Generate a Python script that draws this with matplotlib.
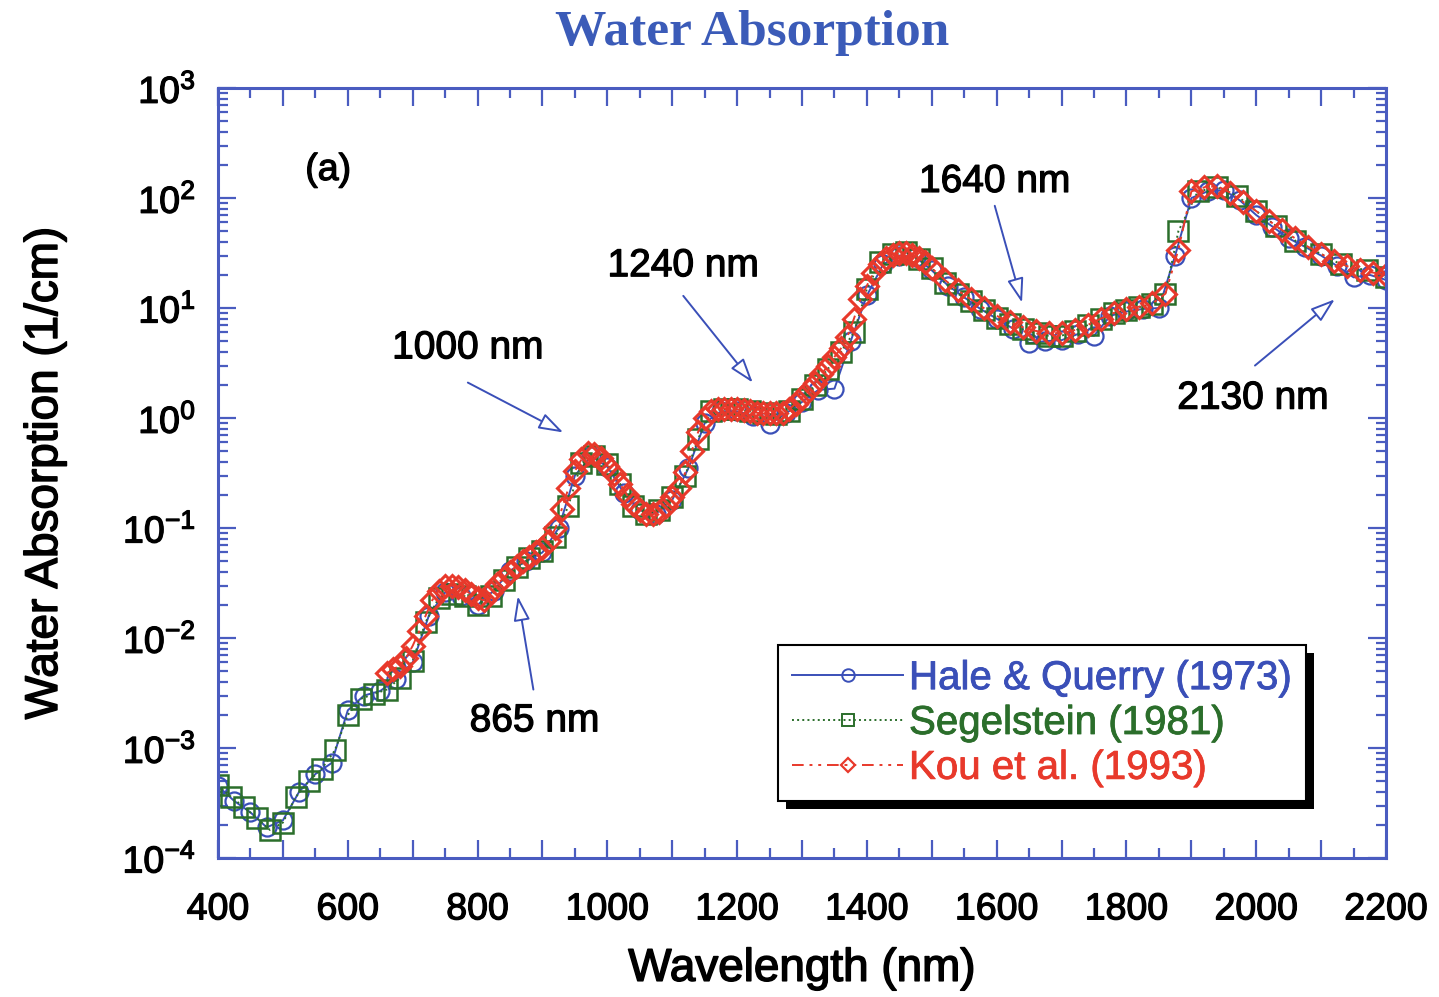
import math
import matplotlib.pyplot as plt
import matplotlib.patheffects as pe
from matplotlib.patches import Rectangle
from matplotlib.ticker import MultipleLocator, FuncFormatter, LogLocator, FixedLocator
from matplotlib.lines import Line2D

# Hale & Querry (1973), шаг 25 нм
hq_wl = [400, 425, 450, 475, 500, 525, 550, 575, 600, 625, 650, 675, 700, 725, 750,
         775, 800, 825, 850, 875, 900, 925, 950, 975, 1000, 1025, 1050, 1075, 1100,
         1125, 1150, 1175, 1200, 1225, 1250, 1275, 1300, 1325, 1350, 1375, 1400,
         1425, 1450, 1475, 1500, 1525, 1550, 1575, 1600, 1625, 1650, 1675, 1700,
         1725, 1750, 1775, 1800, 1825, 1850, 1875, 1900, 1925, 1950, 1975, 2000,
         2025, 2050, 2075, 2100, 2125, 2150, 2175, 2200]
hq_abs = [4.5e-4, 3.3e-4, 2.6e-4, 1.9e-4, 2.2e-4, 4.0e-4, 5.8e-4, 7.3e-4, 2.2e-3,
          3.0e-3, 3.3e-3, 4.2e-3, 6.0e-3, 1.6e-2, 2.6e-2, 2.4e-2, 2.0e-2, 2.7e-2,
          4.1e-2, 5.0e-2, 6.0e-2, 1.0e-1, 3.0e-1, 4.5e-1, 3.6e-1, 2.1e-1, 1.45e-1,
          1.35e-1, 1.8e-1, 3.5e-1, 0.9, 1.15, 1.15, 1.05, 0.88, 1.1, 1.4, 1.8, 1.85,
          5.0, 13, 25, 30, 29, 22, 16, 12.5, 9.8, 8.0, 6.5, 4.8, 5.0, 5.1, 5.8, 5.6,
          8.5, 9.3, 9.8, 10.0, 30, 100, 115, 118, 95, 70, 55, 43, 36, 30, 24, 19,
          20, 18]

# Segelstein (1981)
sg_wl = [400, 420, 440, 460, 480, 500, 520, 540, 560, 580, 600, 620, 640, 660, 680,
         700, 720, 740, 760, 780, 800, 820, 840, 860, 880, 900, 920, 940, 960, 980,
         1000, 1020, 1040, 1060, 1080, 1100, 1120, 1140, 1160, 1180, 1200, 1220,
         1240, 1260, 1280, 1300, 1320, 1340, 1360, 1380, 1400, 1420, 1440, 1460,
         1480, 1500, 1520, 1540, 1560, 1580, 1600, 1620, 1640, 1660, 1680, 1700,
         1720, 1740, 1760, 1780, 1800, 1820, 1840, 1860, 1880, 1910, 1940, 1970,
         2000, 2030, 2060, 2100, 2130, 2170, 2200]
sg_abs = [4.6e-4, 3.6e-4, 2.9e-4, 2.3e-4, 1.8e-4, 2.1e-4, 3.6e-4, 5.0e-4, 6.5e-4,
          9.5e-4, 2.0e-3, 2.8e-3, 3.1e-3, 3.4e-3, 4.3e-3, 6.2e-3, 1.4e-2, 2.3e-2,
          2.5e-2, 2.4e-2, 2.0e-2, 2.4e-2, 3.4e-2, 4.4e-2, 5.3e-2, 6.2e-2, 8.3e-2,
          1.6e-1, 3.9e-1, 4.5e-1, 3.8e-1, 2.5e-1, 1.6e-1, 1.35e-1, 1.45e-1, 1.9e-1,
          3.0e-1, 6.5e-1, 1.15, 1.2, 1.2, 1.15, 1.1, 1.08, 1.15, 1.5, 2.0, 2.8, 4.0,
          6.0, 15, 26, 31, 32, 28, 23, 17, 13.5, 11.5, 9.5, 8.2, 7.2, 6.4, 5.9, 5.6,
          5.6, 6.2, 7.0, 8.0, 9.0, 9.6, 10.2, 10.8, 13.5, 50, 115, 125, 105, 76, 56,
          41, 31, 25, 22, 19]

# Kou et al. (1993)
kou_wl = [660, 670, 680, 690, 700, 710, 720, 730, 740, 750, 760, 770, 780, 790, 800,
          810, 820, 830, 840, 850, 860, 870, 880, 890, 900, 910, 920, 930, 940, 950,
          960, 970, 980, 990, 1000, 1010, 1020, 1030, 1040, 1050, 1060, 1070, 1080,
          1090, 1100, 1110, 1120, 1130, 1140, 1150, 1160, 1170, 1180, 1190, 1200,
          1210, 1220, 1230, 1240, 1250, 1260, 1270, 1280, 1290, 1300, 1310, 1320,
          1330, 1340, 1350, 1360, 1370, 1380, 1390, 1400, 1410, 1420, 1430, 1440,
          1450, 1460, 1470, 1480, 1490, 1500, 1520, 1540, 1560, 1580, 1600, 1620,
          1640, 1660, 1680, 1700, 1720, 1740, 1760, 1780, 1800, 1820, 1840, 1860,
          1880, 1900, 1920, 1940, 1960, 1980, 2000, 2020, 2040, 2060, 2080, 2100,
          2120, 2140, 2160, 2180, 2200]
kou_abs = [4.8e-3, 5.2e-3, 5.6e-3, 6.6e-3, 8.5e-3, 1.15e-2, 1.6e-2, 2.2e-2, 2.7e-2,
           2.95e-2, 3.0e-2, 2.9e-2, 2.75e-2, 2.5e-2, 2.3e-2, 2.2e-2, 2.6e-2, 3.1e-2,
           3.5e-2, 4.0e-2, 4.5e-2, 5.0e-2, 5.5e-2, 6.0e-2, 6.6e-2, 7.6e-2, 1.0e-1,
           1.5e-1, 2.3e-1, 3.3e-1, 4.2e-1, 4.8e-1, 4.7e-1, 4.3e-1, 3.7e-1, 3.1e-1,
           2.5e-1, 2.0e-1, 1.65e-1, 1.45e-1, 1.35e-1, 1.33e-1, 1.4e-1, 1.6e-1,
           1.9e-1, 2.3e-1, 3.2e-1, 5.0e-1, 7.5e-1, 1.0, 1.15, 1.2, 1.22, 1.22, 1.2,
           1.18, 1.15, 1.12, 1.1, 1.1, 1.1, 1.12, 1.2, 1.35, 1.55, 1.8, 2.1, 2.5,
           3.0, 3.6, 4.3, 5.5, 8.0, 12, 16, 21, 25, 28.5, 30.5, 31.5, 31.5, 30.5,
           28.5, 26, 23, 18, 14.5, 12, 10, 8.5, 7.4, 6.7, 6.2, 5.9, 5.9, 6.3, 7.0,
           8.0, 9.0, 9.8, 10.3, 11, 13.5, 34, 115, 125, 128, 112, 92, 76, 62, 51,
           43, 36, 31, 27, 24, 22, 21, 20]

series_names = ['Hale & Querry (1973)', 'Segelstein (1981)', 'Kou et al. (1993)']

# подписи со стрелками: текст, позиция текста, начало и конец стрелки
notes = [('1000 nm', (785, 4.3), (785, 2.1), (932, 0.74)),
         ('1240 nm', (1117, 24), (1117, 12.9), (1224, 2.1)),
         ('1640 nm', (1597, 140), (1597, 85), (1639, 11.2)),
         ('865 nm', (888, 1.75e-3), (886, 3.4e-3), (862, 2.4e-2)),
         ('2130 nm', (1995, 1.5), (1998, 3.0), (2121, 12.0))]

blue = '#3a4fb8'
green = '#2b6e2b'
red = '#e8392b'
axis_blue = '#4a5cc0'

plt.rcParams['font.family'] = ['Liberation Sans', 'DejaVu Sans']
plt.rcParams['mathtext.fontset'] = 'custom'
plt.rcParams['mathtext.rm'] = 'Liberation Sans'


def heavy(color='black', w=0.9):
    # чуть утолщённый шрифт
    return [pe.withStroke(linewidth=w, foreground=color)]


fig = plt.figure(figsize=(14.39, 9.97), dpi=100)
ax = fig.add_axes([0.1515, 0.1394, 0.8117, 0.7723])

ax.plot(hq_wl, hq_abs, '-', color=blue, lw=1.4, marker='o', ms=13,
        mfc='none', mec=blue, mew=1.6, label=series_names[0])
ax.plot(sg_wl, sg_abs, ':', color=green, lw=1.4, marker='s', ms=14,
        mfc='none', mec=green, mew=1.8, label=series_names[1])
ax.plot(kou_wl, kou_abs, color=red, lw=1.4, dashes=(6, 3, 1.5, 3, 1.5, 3),
        marker='D', ms=11, mfc='none', mec=red, mew=2.2, label=series_names[2])

ax.set_yscale('log')
ax.set_xlim(400, 2200)
ax.set_ylim(1e-4, 1e3)

ax.xaxis.set_major_locator(MultipleLocator(100))
ax.xaxis.set_minor_locator(MultipleLocator(50))
ax.xaxis.set_major_formatter(FuncFormatter(lambda v, p: f'{int(v)}' if int(v) % 200 == 0 else ''))
ax.yaxis.set_major_locator(FixedLocator([10.0 ** k for k in range(-4, 4)]))
ax.yaxis.set_minor_locator(LogLocator(base=10, subs=range(2, 10), numticks=20))
ax.yaxis.set_major_formatter(FuncFormatter(
    lambda v, p: r'$\mathregular{10^{%d}}$' % round(math.log10(v))))

ax.tick_params(which='both', direction='in', top=True, right=True, color=axis_blue,
               width=1.6)
ax.tick_params(which='major', length=13)
ax.tick_params(which='minor', length=7)
ax.tick_params(axis='x', which='major', labelsize=27, pad=24)
ax.tick_params(axis='y', which='major', labelsize=27, pad=16)
for s in ax.spines.values():
    s.set_color(axis_blue)
    s.set_linewidth(2.2)
for t in ax.get_xticklabels() + ax.get_yticklabels():
    t.set_path_effects(heavy())

ax.set_xlabel('Wavelength (nm)', fontsize=33, labelpad=14, path_effects=heavy(w=1.1))
ax.set_ylabel('Water Absorption (1/cm)', fontsize=33, labelpad=40, path_effects=heavy(w=1.1))
fig.suptitle('Water Absorption', x=0.523, y=0.99, fontsize=37, fontweight='bold',
             family='Liberation Serif', color='#3b5bb8')

ax.text(570, 180, '(a)', fontsize=27, ha='center', va='center', path_effects=heavy())

for label, txt_pos, start, tip in notes:
    ax.text(*txt_pos, label, fontsize=28, ha='center', va='center', path_effects=heavy())
    ax.annotate('', xy=tip, xytext=start,
                arrowprops=dict(arrowstyle='-|>,head_length=1.5,head_width=0.5',
                                lw=1.4, ec=blue, fc='white', shrinkA=0, shrinkB=0))

handles = [Line2D([], [], color=blue, lw=1.4, marker='o', ms=9, mfc='none', mec=blue, mew=1.4),
           Line2D([], [], color=green, lw=1.4, ls=':', marker='s', ms=9, mfc='none',
                  mec=green, mew=1.4),
           Line2D([], [], color=red, lw=1.4, dashes=(6, 3, 1.5, 3, 1.5, 3), marker='D',
                  ms=7, mfc='none', mec=red, mew=1.6)]
leg = ax.legend(handles, series_names, loc='upper left', bbox_to_anchor=(0.4795, 0.2766),
                borderaxespad=0, fontsize=29, handlelength=2.75, handletextpad=0.15,
                labelspacing=0.17, borderpad=0.35, fancybox=False, framealpha=1,
                edgecolor='black')
leg.get_frame().set_linewidth(1.5)
for t, c in zip(leg.get_texts(), [blue, green, red]):
    t.set_color(c)
    t.set_path_effects(heavy(c, 0.6))

# тень под легендой
fig.canvas.draw()
bb = leg.get_window_extent()
ax.add_patch(Rectangle((bb.x0 + 8, bb.y0 - 8), bb.width, bb.height, transform=None,
                       facecolor='black', edgecolor='none', zorder=4.9, clip_on=False))

fig.savefig('out.png', dpi=100)
